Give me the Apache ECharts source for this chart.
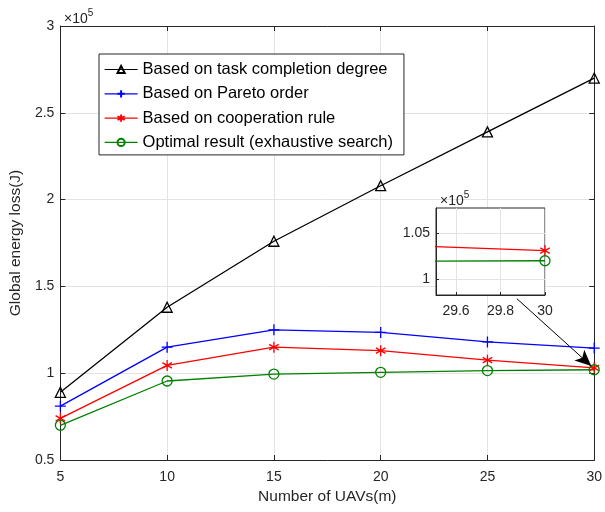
<!DOCTYPE html>
<html>
<head>
<meta charset="utf-8">
<script src="https://cdn.jsdelivr.net/npm/echarts@6/dist/echarts.min.js"></script>
<style>
  html, body { margin: 0; padding: 0; background: #fff; }
  #chart { width: 605px; height: 512px; }
</style>
</head>
<body>
<div id="chart"></div>
<script>
// Number of UAVs
const uavs = [5, 10, 15, 20, 25, 30];
// Global energy loss (J)
const taskDegree = [89000, 138000, 176000, 208000, 239000, 270000];
const paretoOrder = [81000, 115000, 125000, 123500, 118000, 114500];
const coopRule = [74000, 104500, 115000, 113000, 107500, 103100];
const optimal = [70000, 95500, 99500, 100500, 101500, 102000];

const seriesNames = [
  "Based on task completion degree",
  "Based on Pareto order",
  "Based on cooperation rule",
  "Optimal result (exhaustive search)"
];

// inset ticks
const insetXTicks = [29.6, 29.8, 30];
const insetYTicks = [100000, 105000];

// zoom arrow (data space of the main axes)
const arrowFrom = [26.38, 142900];
const arrowTo = [29.86, 104200];

const FONT = "'Liberation Sans', Arial, Helvetica, sans-serif";
const AXIS = "#262626";
const GRIDC = "#e3e3e3";

const pairs = ys => uavs.map((x, i) => [x, ys[i]]);

const PLUS = "path://M5,0L5,10M0,5L10,5";
const STAR = "path://M5,0L5,10M0.67,2.5L9.33,7.5M0.67,7.5L9.33,2.5";

const styles = [
  { color: "#000000", symbol: "triangle", size: 10 },
  { color: "#0000ff", symbol: PLUS, size: 11 },
  { color: "#ff0000", symbol: STAR, size: 11 },
  { color: "#008000", symbol: "circle", size: 10 }
];
const values = [taskDegree, paretoOrder, coopRule, optimal];

function makeSeries(i, xi, yi, z) {
  const s = styles[i];
  return {
    name: seriesNames[i],
    type: "line",
    xAxisIndex: xi,
    yAxisIndex: yi,
    z: z,
    data: pairs(values[i]),
    symbol: s.symbol,
    symbolSize: s.size,
    symbolKeepAspect: true,
    showAllSymbol: true,
    lineStyle: { color: s.color, width: 1.3 },
    itemStyle: { color: "rgba(0,0,0,0)", borderColor: s.color, borderWidth: 1.3 },
    emphasis: { disabled: true },
    animation: false
  };
}

const tickLabel = { color: AXIS, fontSize: 14, fontFamily: FONT };
const expRich = {
  a: { fontSize: 14, color: AXIS, fontFamily: FONT, fontWeight: "normal", verticalAlign: "bottom" },
  b: { fontSize: 10, color: AXIS, fontFamily: FONT, fontWeight: "normal", verticalAlign: "top", padding: [0, 0, 8, 0] }
};

const chart = echarts.init(document.getElementById("chart"));

const mainSeries = [0, 1, 2, 3].map(i => makeSeries(i, 0, 0, 2));
mainSeries[0].markLine = {
  silent: true,
  symbol: ["none", "arrow"],
  symbolSize: [11, 16],
  label: { show: false },
  lineStyle: { color: "#000", width: 1, type: "solid" },
  data: [[{ coord: arrowFrom }, { coord: arrowTo }]],
  animation: false
};

const insetSeries = [2, 3].map(i => makeSeries(i, 2, 2, 5));

chart.setOption({
  backgroundColor: "#fff",
  animation: false,
  textStyle: { fontFamily: FONT },
  title: [
    {
      text: "{a|×10}{b|5}",
      left: 59, top: 3,
      textStyle: { fontWeight: "normal", rich: expRich }
    },
    {
      text: "{a|×10}{b|5}",
      left: 435, top: 185,
      z: 6,
      textStyle: { fontWeight: "normal", rich: expRich }
    }
  ],
  legend: {
    data: seriesNames,
    orient: "vertical",
    left: 99, top: 54,
    padding: [7, 11, 4, 5],
    itemWidth: 33, itemHeight: 9, itemGap: 7.3,
    lineStyle: { width: 1.2 },
    backgroundColor: "#fff",
    borderColor: AXIS, borderWidth: 1,
    textStyle: { fontSize: 16.5, color: "#000", fontFamily: FONT, lineHeight: 16 },
    selectedMode: false,
    z: 10
  },
  grid: [
    { left: 58, right: 8, top: 26, bottom: 52 },
    { left: 436, top: 208, width: 109, height: 87, show: true,
      backgroundColor: "#fff", borderColor: AXIS, borderWidth: 1, z: 3 }
  ],
  xAxis: [
    {
      type: "value", gridIndex: 0, min: 5, max: 30, interval: 5,
      name: "Number of UAVs(m)", nameLocation: "middle", nameGap: 25,
      nameTextStyle: { fontSize: 15.5, color: AXIS, fontFamily: FONT },
      axisLine: { lineStyle: { color: AXIS, width: 1 } },
      axisTick: { inside: true, length: 5, lineStyle: { color: AXIS } },
      axisLabel: Object.assign({ margin: 10 }, tickLabel),
      splitLine: { show: true, lineStyle: { color: GRIDC, width: 1 } }
    },
    {
      type: "value", gridIndex: 0, min: 5, max: 30, interval: 5, position: "top",
      axisLine: { lineStyle: { color: AXIS, width: 1 } },
      axisTick: { inside: true, length: 5, lineStyle: { color: AXIS } },
      axisLabel: { show: false },
      splitLine: { show: false }
    },
    {
      type: "value", gridIndex: 1, min: 29.51, max: 30, z: 4,
      axisLine: { lineStyle: { color: AXIS, width: 1 } },
      axisTick: { inside: true, length: 3, customValues: insetXTicks, lineStyle: { color: AXIS } },
      axisLabel: Object.assign({ margin: 9, customValues: insetXTicks,
        formatter: v => String(Math.round(v * 10) / 10) }, tickLabel),
      splitLine: { show: true, lineStyle: { color: GRIDC, width: 1 } }
    }
  ],
  yAxis: [
    {
      type: "value", gridIndex: 0, min: 50000, max: 300000, interval: 50000,
      name: "Global energy loss(J)", nameLocation: "middle", nameGap: 32,
      nameTextStyle: { fontSize: 15.5, color: AXIS, fontFamily: FONT },
      axisLine: { show: true, lineStyle: { color: AXIS, width: 1 } },
      axisTick: { show: true, inside: true, length: 5, lineStyle: { color: AXIS } },
      axisLabel: Object.assign({ margin: 6, formatter: v => String(v / 100000) }, tickLabel),
      splitLine: { show: true, lineStyle: { color: GRIDC, width: 1 } }
    },
    {
      type: "value", gridIndex: 0, min: 50000, max: 300000, interval: 50000, position: "right",
      axisLine: { show: true, lineStyle: { color: AXIS, width: 1 } },
      axisTick: { show: true, inside: true, length: 5, lineStyle: { color: AXIS } },
      axisLabel: { show: false },
      splitLine: { show: false }
    },
    {
      type: "value", gridIndex: 1, min: 98300, max: 107700, z: 4,
      axisLine: { show: true, lineStyle: { color: AXIS, width: 1 } },
      axisTick: { show: true, inside: true, length: 3, customValues: insetYTicks, lineStyle: { color: AXIS } },
      axisLabel: Object.assign({ margin: 6, customValues: insetYTicks,
        formatter: v => String(v / 100000) }, tickLabel),
      splitLine: { show: true, lineStyle: { color: GRIDC, width: 1 } }
    }
  ],
  series: mainSeries.concat(insetSeries)
});
</script>
</body>
</html>
